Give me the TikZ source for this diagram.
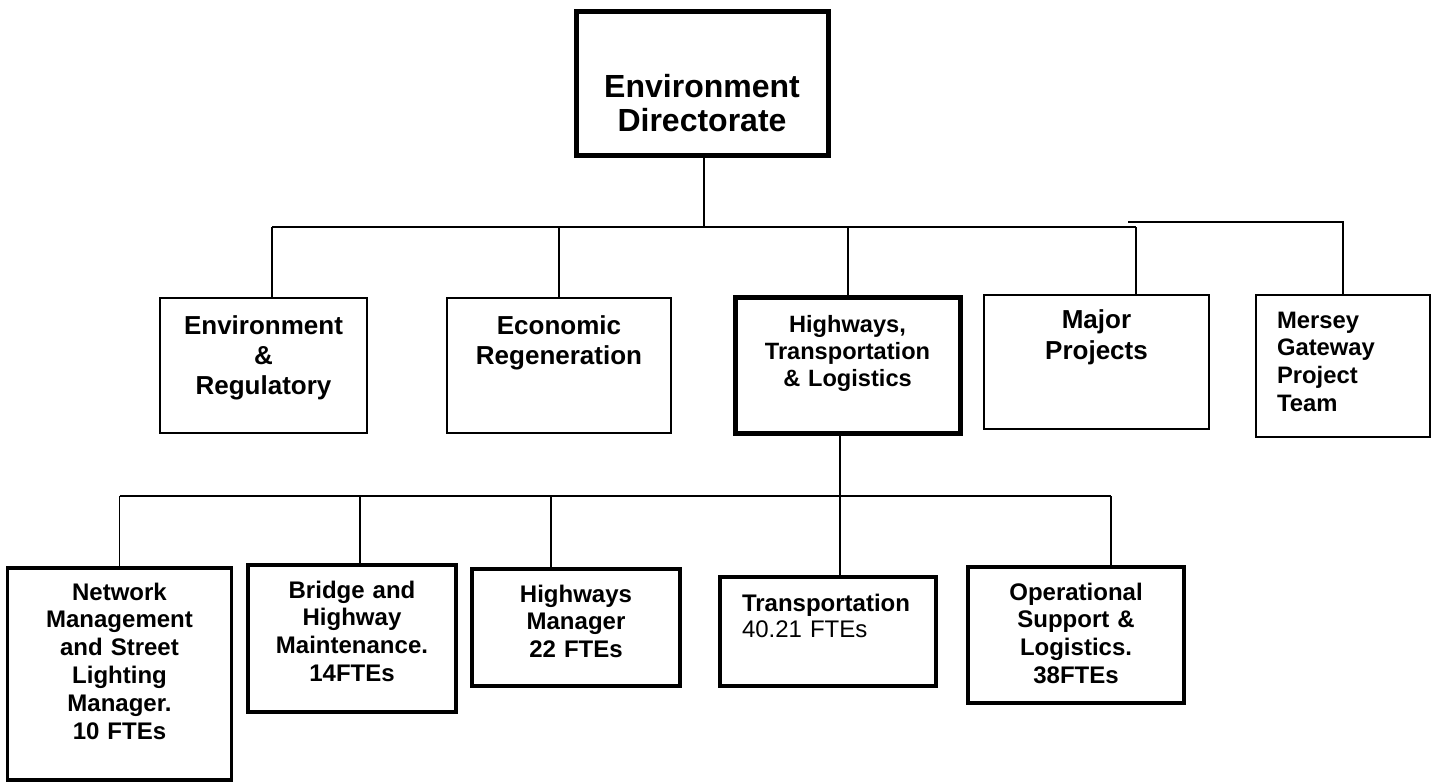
\documentclass[tikz,border=0pt]{standalone}
\usepackage{fontspec}
\setmainfont{Liberation Sans}
\usepackage{tikz}

\tikzset{
  orgbox/.style={draw, rectangle, inner sep=0pt, align=center, font=\bfseries},
  thinbox/.style={orgbox, line width=1.6pt},
  heavybox/.style={orgbox, line width=5pt},
  unitbox/.style={orgbox, line width=3.6pt, font=\fontsize{24}{27.8}\selectfont\bfseries},
  link/.style={line width=1.4pt}
}

\begin{document}
\begin{tikzpicture}[x=1pt, y=-1pt]
            \useasboundingbox (0,0) rectangle (1432,784);
            % directorate
            \node (dir) [heavybox, font=\fontsize{32}{34}\selectfont\bfseries, text width=252, text height=86, text depth=58] at (702,83.5) {Environment\\Directorate};
            % divisions
            \node (envreg) [thinbox, font=\fontsize{26}{30}\selectfont\bfseries, text width=207, text height=36, text depth=99] at (263.5,365.5) {Environment\\\&\\Regulatory};
            \node (econ) [thinbox, font=\fontsize{26}{30}\selectfont\bfseries, text width=224, text height=36, text depth=99] at (559,365.5) {Economic\\Regeneration};
            \node (htl) [heavybox, font=\fontsize{23.6}{27}\selectfont\bfseries, text width=225, text height=35, text depth=101] at (847.5,365) {Highways,\\Transportation\\\& Logistics};
            \node (major) [thinbox, font=\fontsize{26}{31.5}\selectfont\bfseries, text width=225, text height=33, text depth=101] at (1096.5,362) {Major\\Projects};
            \node (mersey) [thinbox, align=left, inner xsep=21, font=\fontsize{23.8}{27.7}\selectfont\bfseries, text width=132, text height=33, text depth=109] at (1343,366) {Mersey\\Gateway\\Project\\Team};
            % sections
            \node (netw) [unitbox, text width=224, text height=32, text depth=180] at (119.5,674) {Network\\Management\\and Street\\Lighting\\Manager.\\10 FTEs};
            \node (bridge) [unitbox, text width=208, text height=33, text depth=114] at (352,638.5) {Bridge and\\Highway\\Maintenance.\\14FTEs};
            \node (hwman) [unitbox, text width=208, text height=33, text depth=84] at (576,627.5) {Highways\\Manager\\22 FTEs};
            \node (transp) [unitbox, align=left, inner xsep=22, font=\fontsize{24}{26}\selectfont, text width=172, text height=34, text depth=75] at (828,631.5) {\textbf{Transportation}\\40.21 FTEs};
            \node (ops) [unitbox, text width=216, text height=33, text depth=103] at (1076,635) {Operational\\Support \&\\Logistics.\\38FTEs};
            % bus coordinates
            \coordinate (topbus) at (704,227);
            \coordinate (sidebus) at (1128,222);
            \coordinate (lowbus) at (840,496);
            % top level links
            \draw[link] (dir.south -| topbus) -- (topbus);
            \draw[link] (272,227) -- (1136,227);
            \draw[link] (272,227) -- (272,227 |- envreg.north);
            \draw[link] (econ.north |- topbus) -- (econ.north);
            \draw[link] (848,227) -- (848,227 |- htl.north);
            \draw[link] (1136,227) -- (1136,227 |- major.north);
            \draw[link] (sidebus) -- (mersey.north |- sidebus) -- (mersey.north);
            % second level links
            \draw[link] (lowbus |- htl.south) -- (lowbus);
            \draw[link] (netw.north |- lowbus) -- (1111,496);
            \draw[link] (netw.north |- lowbus) -- (netw.north);
            \draw[link] (360,496) -- (360,496 |- bridge.north);
            \draw[link] (551,496) -- (551,496 |- hwman.north);
            \draw[link] (lowbus) -- (lowbus |- transp.north);
            \draw[link] (1111,496) -- (1111,496 |- ops.north);
\end{tikzpicture}
\end{document}
